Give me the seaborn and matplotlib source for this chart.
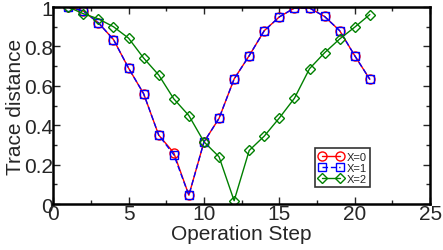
import numpy as np
import pandas as pd
import matplotlib
matplotlib.use("Agg")
import matplotlib.pyplot as plt
from matplotlib.ticker import MultipleLocator
import seaborn as sns

# Data
steps = list(range(1, 22))
x0_vals = [1.0, 0.98, 0.92, 0.835, 0.69, 0.56, 0.35, 0.26, 0.045, 0.315, 0.435,
           0.635, 0.753, 0.88, 0.95, 0.995, 0.995, 0.952, 0.88, 0.753, 0.633]
x1_vals = [1.0, 0.98, 0.92, 0.835, 0.69, 0.56, 0.35, 0.25, 0.045, 0.315, 0.435,
           0.635, 0.753, 0.88, 0.95, 0.995, 0.995, 0.952, 0.88, 0.753, 0.633]
x2_vals = [1.0, 0.966, 0.94, 0.90, 0.842, 0.741, 0.655, 0.534, 0.449, 0.316, 0.24,
           0.017, 0.272, 0.345, 0.437, 0.537, 0.687, 0.768, 0.838, 0.898, 0.962]
labels = ["X=0", "X=1", "X=2"]

sns.set_style("ticks")
plt.rcParams['font.family'] = ['Liberation Sans', 'DejaVu Sans']

fig = plt.figure(figsize = (4.43, 2.51), dpi = 100)
ax = fig.add_axes([0.12, 0.183, 0.851, 0.785])

# Draw each series
styles = [
    dict(color = "red", marker = "o", linestyle = "-", ms = 6.5),
    dict(color = "blue", marker = "s", linestyle = (0, (4, 2)), ms = 6),
    dict(color = "green", marker = "D", linestyle = "-", ms = 5),
]
for vals, lab, st in zip([x0_vals, x1_vals, x2_vals], labels, styles):
    df = pd.DataFrame({"step": steps, "value": vals})
    sns.lineplot(data = df, x = "step", y = "value", ax = ax, label = lab,
                 color = st["color"], marker = st["marker"], linestyle = st["linestyle"],
                 linewidth = 1.0, markersize = st["ms"],
                 markerfacecolor = "none", markeredgecolor = st["color"],
                 markeredgewidth = 1.0)

ax.set_xlim(0, 25)
ax.set_ylim(0, 1)
ax.xaxis.set_major_locator(MultipleLocator(5))
ax.xaxis.set_minor_locator(MultipleLocator(2.5))
ax.yaxis.set_minor_locator(MultipleLocator(0.1))
ax.set_yticks([0, 0.2, 0.4, 0.6, 0.8, 1.0])
ax.set_yticklabels(["0", "0.2", "0.4", "0.6", "0.8", "1"])
ax.tick_params(which = "both", direction = "in", top = True, right = True,
               labelsize = 15, pad = 0)
ax.tick_params(which = "major", length = 5, width = 1)
ax.tick_params(which = "minor", length = 3, width = 1)
for s in ax.spines.values():
    s.set_linewidth(1.8)
    s.set_color("black")

ax.set_xlabel("Operation Step", fontsize = 15, labelpad = 1)
ax.set_ylabel("Trace distance", fontsize = 15, labelpad = -1)

# Legend with two markers per entry
leg = ax.legend(loc = "lower left", bbox_to_anchor = (0.695, 0.085), fontsize = 8,
                frameon = True, fancybox = False, handlelength = 2.2, numpoints = 2,
                handletextpad = 0.3, borderpad = 0.3, labelspacing = 0.1,
                borderaxespad = 0)
leg.get_frame().set_edgecolor("black")
leg.get_frame().set_linewidth(1.2)

plt.savefig("out.png", dpi = 100)
plt.close()
